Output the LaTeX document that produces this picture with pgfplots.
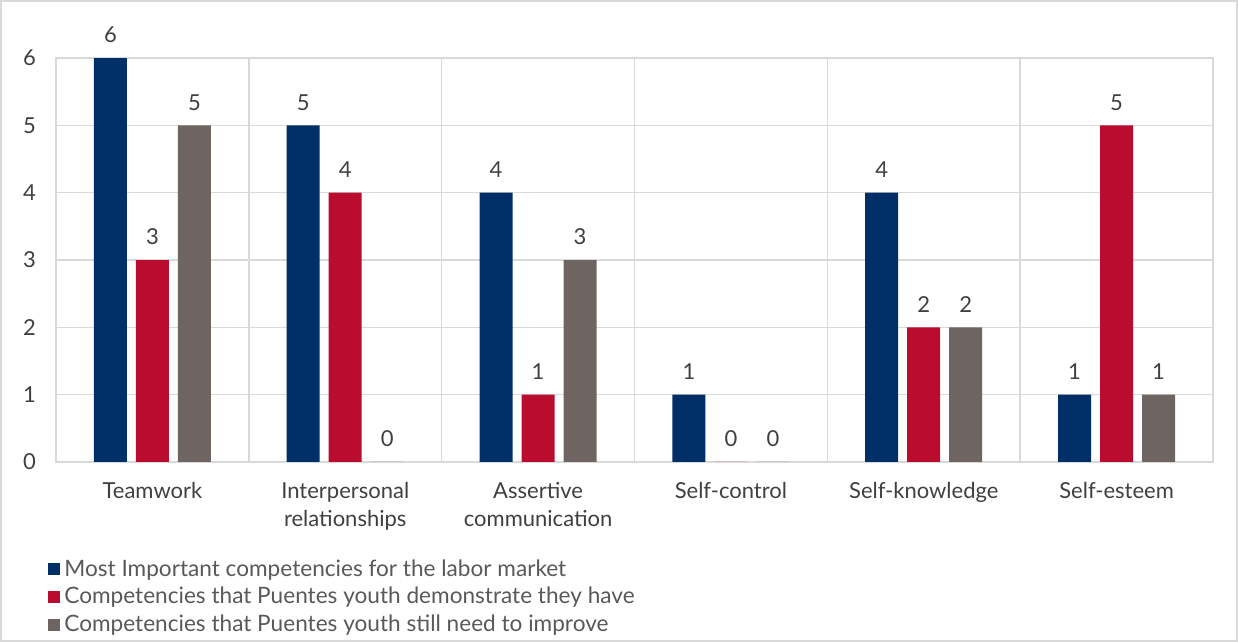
\documentclass[border=0pt]{standalone}
\usepackage{pgfplots}
\pgfplotsset{compat=1.18}
\usepackage{fontspec}
\setmainfont{Lato}
\definecolor{cblue}{HTML}{002F67}
\definecolor{cred}{HTML}{BA0C2F}
\definecolor{cgray}{HTML}{6E6562}
\definecolor{cgrid}{HTML}{D9D9D9}
\definecolor{ctext}{HTML}{404040}
\definecolor{clegend}{HTML}{595959}
\begin{document}
\begin{tikzpicture}
\useasboundingbox (0,0) rectangle (619pt,321pt);
\draw[cgrid, line width=0.8pt] (0.4pt,0.4pt) rectangle (618.6pt,320.6pt);
\begin{axis}[
  at={(28pt,90pt)}, anchor=south west,
  scale only axis, width=578.5pt, height=202pt,
  ymin=0, ymax=6, ytick={0,1,2,3,4,5,6},
  xmin=-0.5, xmax=5.5,
  xtick={0,1,2,3,4,5},
  xticklabels={Teamwork,{Interpersonal\\relationships},{Assertive\\communication},Self-control,Self-knowledge,Self-esteem},
  xticklabel style={align=center, font=\fontsize{11}{14}\selectfont, text=ctext, yshift=-6.5pt},
  yticklabel style={font=\fontsize{11}{12}\selectfont, text=ctext, xshift=-6.5pt},
  /pgf/number format/assume math mode=true,
  extra x ticks={-0.5,0.5,1.5,2.5,3.5,4.5,5.5},
  extra x tick labels={},
  extra x tick style={grid=major, major grid style={cgrid, line width=0.8pt}, major tick length=0pt},
  ymajorgrids, major grid style={cgrid, line width=0.8pt},
  axis line style={cgrid, line width=0.8pt},
  major tick length=0pt,
  ybar=4.5pt, bar width=16.5pt,
  nodes near coords,
  every node near coord/.append style={font=\fontsize{11}{12}\selectfont, text=ctext, yshift=4pt},
  legend style={at={(axis description cs:0,0)}, anchor=north west, xshift=-4pt, yshift=-46.5pt, draw=none, fill=none,
    font=\fontsize{11.3}{12}\selectfont, text=clegend, row sep=0pt, inner sep=0pt},
  legend cell align=left,
  legend image code/.code={\fill[#1] (0pt,-3pt) rectangle (6pt,3pt);},
]
\addplot[fill=cblue, draw=none] coordinates {(0,6) (1,5) (2,4) (3,1) (4,4) (5,1)};
\addplot[fill=cred, draw=none] coordinates {(0,3) (1,4) (2,1) (3,0) (4,2) (5,5)};
\addplot[fill=cgray, draw=none] coordinates {(0,5) (1,0) (2,3) (3,0) (4,2) (5,1)};
\legend{Most Important competencies for the labor market,Competencies that Puentes youth demonstrate they have,Competencies that Puentes youth still need to improve}
\end{axis}
\end{tikzpicture}
\end{document}
